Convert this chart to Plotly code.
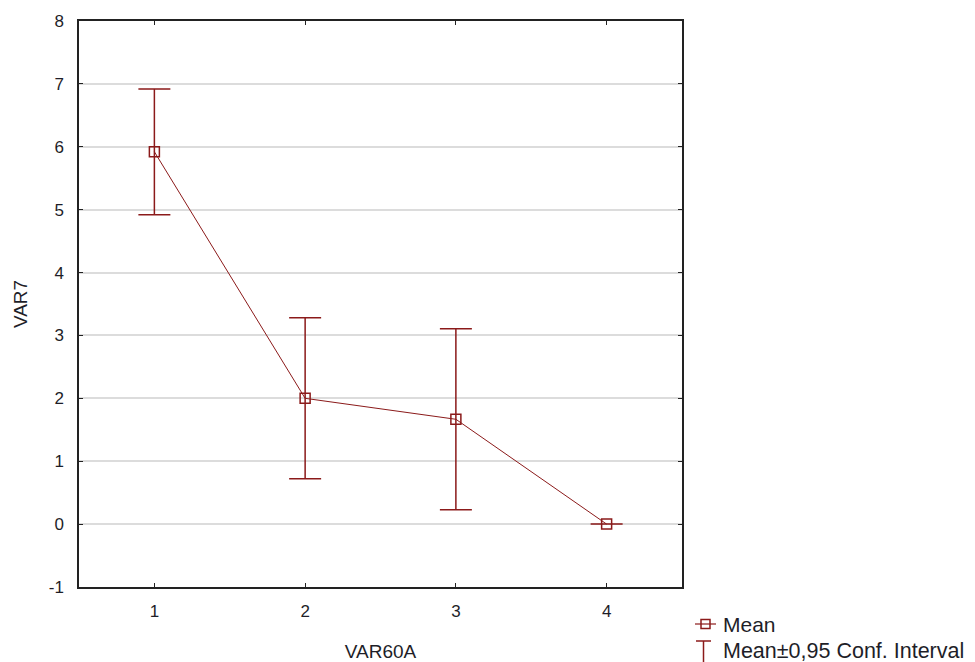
import plotly.graph_objects as go

categories = [1, 2, 3, 4]
means = [5.92, 2.0, 1.667, 0.0]
ci_half = [1.0, 1.28, 1.44, 0.0]
y_ticks = [-1, 0, 1, 2, 3, 4, 5, 6, 7, 8]
y_ticktext = ["-1", "0", "1", "2", "3", "4", "5", "6", "7", "8"]

RED = "#8b1a1a"
FONT = "Liberation Sans, Arial, sans-serif"
TXT = "#1e1e28"

fig = go.Figure()
fig.add_trace(go.Scatter(
    x=categories, y=means, mode="lines+markers",
    line=dict(color=RED, width=1),
    marker=dict(symbol="square-open", size=10, color=RED, line=dict(width=1.5, color=RED)),
    error_y=dict(type="data", array=ci_half, visible=True, color=RED, thickness=1.5, width=16),
    showlegend=False,
))

fig.update_layout(
    width=975, height=662,
    margin=dict(l=79, r=293, t=21, b=75),
    paper_bgcolor="white", plot_bgcolor="white",
    font=dict(family=FONT, size=17, color=TXT),
    xaxis=dict(range=[0.5, 4.5], tickvals=categories, ticks="inside", ticklen=4,
               tickcolor="#222", showline=True, linecolor="#222", linewidth=1.5,
               mirror="ticks", showgrid=False, zeroline=False, ticklabelstandoff=8,
               tickfont=dict(size=17), automargin=False,
               title=dict(text="VAR60A", standoff=26, font=dict(size=19))),
    yaxis=dict(range=[-1, 8], tickvals=y_ticks, ticktext=y_ticktext, ticks="inside", ticklen=4,
               tickcolor="#222", showline=True, linecolor="#222", linewidth=1.5,
               mirror="ticks", showgrid=True, gridcolor="#dcdcdc", gridwidth=1.5,
               zeroline=False, ticklabelstandoff=10, tickfont=dict(size=17), automargin=False,
               title=dict(text="VAR7", standoff=16, font=dict(size=19))),
)

# Legend (drawn manually)
fig.add_shape(type="line", xref="paper", yref="paper", x0=(695-79)/603, x1=(716-79)/603,
              y0=(587-624)/566, y1=(587-624)/566, line=dict(color=RED, width=1.2))
fig.add_shape(type="rect", xref="paper", yref="paper", x0=(701-79)/603, x1=(710-79)/603,
              y0=(587-619.5)/566, y1=(587-628.5)/566, line=dict(color=RED, width=1.5))
fig.add_annotation(xref="paper", yref="paper", x=(721-79)/603, y=(587-624)/566, text="Mean",
                   showarrow=False, xanchor="left", yanchor="middle",
                   font=dict(size=21, family=FONT, color=TXT))
fig.add_shape(type="line", xref="paper", yref="paper", x0=(696-79)/603, x1=(711-79)/603,
              y0=(587-641)/566, y1=(587-641)/566, line=dict(color=RED, width=1.5))
fig.add_shape(type="line", xref="paper", yref="paper", x0=(703.5-79)/603, x1=(703.5-79)/603,
              y0=(587-641)/566, y1=(587-664)/566, line=dict(color=RED, width=1.5))
fig.add_annotation(xref="paper", yref="paper", x=(721-79)/603, y=(587-651)/566,
                   text="Mean±0,95 Conf. Interval",
                   showarrow=False, xanchor="left", yanchor="middle",
                   font=dict(size=21.5, family=FONT, color=TXT))

fig.write_html("out.html")
